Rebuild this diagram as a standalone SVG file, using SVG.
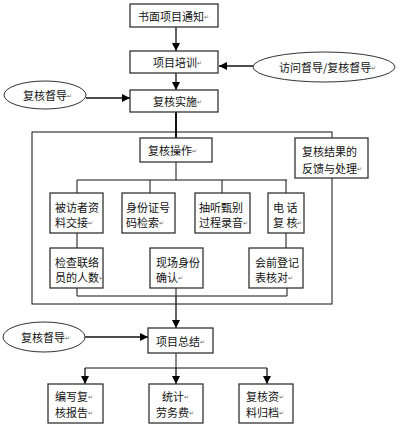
<svg xmlns="http://www.w3.org/2000/svg" width="400" height="428" viewBox="0 0 400 428">
<defs>
<marker id="ah" viewBox="0 0 10 10" refX="10" refY="5" markerWidth="8" markerHeight="8" markerUnits="userSpaceOnUse" orient="auto">
<path d="M0,0 L10,5 L0,10 z" fill="#000"/>
</marker>
<style>
.b{fill:#fff;stroke:#333;stroke-width:1.3}
.e{fill:#fff;stroke:#333;stroke-width:1}
.c{fill:none;stroke:#111;stroke-width:1}
.a{fill:none;stroke:#111;stroke-width:1.3;marker-end:url(#ah)}
text{font-family:"Noto Sans CJK SC","Noto Sans",sans-serif;font-size:11px;fill:#111}
.m{font-size:6px;fill:#666}
.t{dominant-baseline:central}
</style>
</defs>
<rect width="400" height="428" fill="#fff"/>
<g id="connectors">
<path class="a" d="M176,27 V51"/>
<path class="a" d="M176,73 V90"/>
<path class="a" d="M253,66 H219"/>
<path class="a" d="M86,98 H130"/>
<path class="c" d="M176,112 V138" style="stroke-width:2"/>
<rect class="c" x="32" y="132" width="300" height="172"/>
<path class="c" d="M176,162 V180 M77,180 H287 M77,180 V193 M150,180 V193 M222,180 V193 M286,180 V193"/>
<path class="c" d="M77,233 V248 M286,233 V248"/>
<path class="c" d="M77,288 V296 M176,288 V296 M287,288 V296 M77,296 H287"/>
<path class="a" d="M176,296 V328"/>
<path class="a" d="M85,337 H148"/>
<path class="c" d="M176,353 V368 M85,368 H267"/>
<path class="a" d="M85,368 V384"/>
<path class="a" d="M176,368 V384"/>
<path class="a" d="M267,368 V384"/>
</g>
<g id="n1"><rect class="b" x="130" y="4" width="88" height="23"/><text class="t" x="138" y="16">书面项目通知<tspan class="m">↵</tspan></text></g>
<g id="n2"><rect class="b" x="130" y="51" width="88" height="22"/><text class="t" x="153" y="62">项目培训<tspan class="m">↵</tspan></text></g>
<g id="n3"><ellipse class="e" cx="324" cy="67" rx="71" ry="15"/><text class="t" x="279" y="67">访问督导/复核督导<tspan class="m">↵</tspan></text></g>
<g id="n4"><rect class="b" x="130" y="90" width="88" height="22"/><text class="t" x="153" y="101">复核实施<tspan class="m">↵</tspan></text></g>
<g id="n5"><ellipse class="e" cx="45" cy="95" rx="41" ry="14"/><text class="t" x="23" y="95">复核督导<tspan class="m">↵</tspan></text></g>
<g id="n6"><rect class="b" x="140" y="138" width="72" height="24"/><text class="t" x="148" y="150">复核操作<tspan class="m">↵</tspan></text></g>
<g id="n7"><rect class="b" x="295" y="138" width="73" height="40"/><text class="t" x="302" y="151">复核结果的</text><text class="t" x="302" y="168">反馈与处理<tspan class="m">↵</tspan></text></g>
<g id="n8"><rect class="b" x="50" y="193" width="53" height="40"/><text class="t" x="55" y="207">被访者资</text><text class="t" x="55" y="222">料交接<tspan class="m">↵</tspan></text></g>
<g id="n9"><rect class="b" x="122" y="193" width="53" height="40"/><text class="t" x="126" y="207">身份证号</text><text class="t" x="126" y="222">码检索<tspan class="m">↵</tspan></text></g>
<g id="n10"><rect class="b" x="195" y="193" width="55" height="40"/><text class="t" x="199" y="207">抽听甄别</text><text class="t" x="199" y="222">过程录音<tspan class="m">↵</tspan></text></g>
<g id="n11"><rect class="b" x="268" y="193" width="36" height="40"/><text class="t" x="273" y="207">电 话</text><text class="t" x="273" y="222">复 核<tspan class="m">↵</tspan></text></g>
<g id="n12"><rect class="b" x="50" y="248" width="53" height="40"/><text class="t" x="55" y="262">检查联络</text><text class="t" x="55" y="277">员的人数<tspan class="m">↵</tspan></text></g>
<g id="n13"><rect class="b" x="150" y="248" width="53" height="40"/><text class="t" x="156" y="262">现场身份</text><text class="t" x="156" y="277">确认<tspan class="m">↵</tspan></text></g>
<g id="n14"><rect class="b" x="249" y="248" width="54" height="40"/><text class="t" x="255" y="262">会前登记</text><text class="t" x="255" y="277">表核对<tspan class="m">↵</tspan></text></g>
<g id="n15"><ellipse class="e" cx="44" cy="337" rx="41" ry="15"/><text class="t" x="21" y="337">复核督导<tspan class="m">↵</tspan></text></g>
<g id="n16"><rect class="b" x="148" y="328" width="65" height="25"/><text class="t" x="156" y="341">项目总结<tspan class="m">↵</tspan></text></g>
<g id="n17"><rect class="b" x="48" y="384" width="55" height="39"/><text class="t" x="55" y="396">编写复<tspan class="m">↵</tspan></text><text class="t" x="55" y="412">核报告<tspan class="m">↵</tspan></text></g>
<g id="n18"><rect class="b" x="149" y="384" width="54" height="39"/><text class="t" x="162" y="396">统计<tspan class="m">↵</tspan></text><text class="t" x="156" y="412">劳务费<tspan class="m">↵</tspan></text></g>
<g id="n19"><rect class="b" x="239" y="384" width="54" height="39"/><text class="t" x="246" y="396">复核资<tspan class="m">↵</tspan></text><text class="t" x="246" y="412">料归档<tspan class="m">↵</tspan></text></g>
</svg>
